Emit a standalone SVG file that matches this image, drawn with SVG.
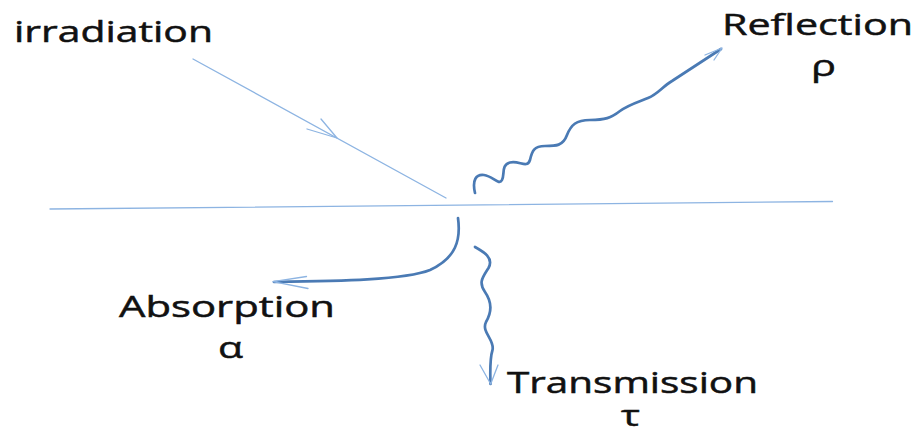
<svg xmlns="http://www.w3.org/2000/svg" width="920" height="434" viewBox="0 0 920 434">
<style>
.lbl{font-family:"Open Sans","Liberation Sans",sans-serif;font-size:30px;fill:#111;stroke:#111;stroke-width:0.5}
.thin{fill:none;stroke:#8db4e2;stroke-width:1.3;stroke-linecap:round;stroke-linejoin:round}
.wave{fill:none;stroke:#4a7ab4;stroke-width:2.7;stroke-linecap:round;stroke-linejoin:round}
</style>
<rect width="920" height="434" fill="#fff"/>
<g id="surface">
<line class="thin" x1="50" y1="209" x2="832.5" y2="201.5"/>
</g>
<g id="connectors">
<g id="irradiation-ray">
<line class="thin" x1="193" y1="59" x2="446" y2="198"/>
<polyline class="thin" points="307,129 337,138 321,119"/>
</g>
<g id="reflection-ray">
<path class="wave" d="M475,193 C472,180 476,174 484,175 C493,176 499,186 502,180 C505,174 501,165 510,162.5 C519,160 527,169 530,160 C532,151 534,146 545,146 C556,146 563,146 567,135 C571,125 576,120 590,120 C605,120 611,118 620,111 C628,105 638,102 648,98 C658,94 662,87 672,81 L721,49"/>
<polyline class="thin" points="705,55 722,48 714,60"/>
</g>
<g id="absorption-ray">
<path class="wave" d="M458,218 C461,240 456,258 430,270 C405,280 340,281 274,282"/>
<polyline class="thin" points="306.5,276.5 273,281.7 308,288.5"/>
</g>
<g id="transmission-ray">
<path class="wave" d="M475,247 C484,252 494,258 488.5,268 C483,277 478,282 485,292 C492,302 492,312 486,322 C481,332 495,340 492.5,350 C490,358 490,370 490.5,384"/>
<polyline class="thin" points="480,365 490.7,384 498,365"/>
</g>
</g>
<g id="irradiation">
<text class="lbl" x="14" y="41.5" textLength="199" lengthAdjust="spacingAndGlyphs">irradiation</text>
</g>
<g id="reflection">
<text class="lbl" x="722" y="35" textLength="191" lengthAdjust="spacingAndGlyphs">Reflection</text>
<text class="lbl" x="811" y="76" textLength="25" lengthAdjust="spacingAndGlyphs">ρ</text>
</g>
<g id="absorption">
<text class="lbl" x="119" y="317" textLength="216" lengthAdjust="spacingAndGlyphs">Absorption</text>
<text class="lbl" x="218" y="358" textLength="25" lengthAdjust="spacingAndGlyphs">α</text>
</g>
<g id="transmission">
<text class="lbl" x="507" y="393" textLength="251" lengthAdjust="spacingAndGlyphs">Transmission</text>
<text class="lbl" x="621" y="426" textLength="19" lengthAdjust="spacingAndGlyphs">τ</text>
</g>
</svg>
